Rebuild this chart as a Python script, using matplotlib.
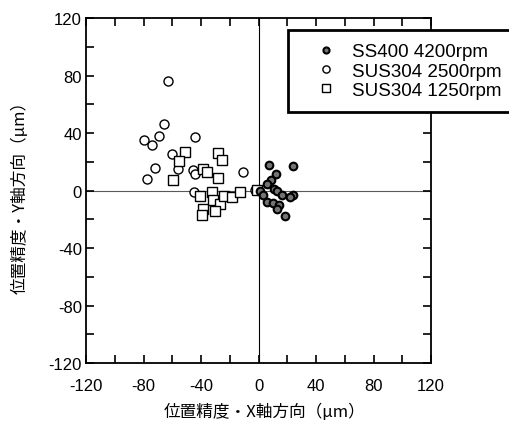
import matplotlib
matplotlib.use("Agg")
import matplotlib.pyplot as plt
from matplotlib.ticker import MultipleLocator

plt.rcParams['axes.unicode_minus'] = False

# SS400 4200rpm (filled circles)
ss400_x = [7.1, 23.8, 12.2, 8.5, 5.7, 10.8, 12.6, 16.1, 23.8, 21.9, 5.7, 10.3, 14.5, 13.1, 18.4, 1.0, 3.3]
ss400_y = [17.5, 16.8, 11.7, 7.1, 4.8, 1.3, -0.6, -2.9, -3.4, -4.5, -8.0, -8.5, -10.3, -12.7, -17.5, 0.0, -3.4]

# SUS304 2500rpm (open circles)
sus2500_x = [-62.7, -65.5, -79.6, -74.3, -69.2, -44.2, -60.4, -71.8, -77.8, -55.8, -45.4, -44.2, -10.6, -44.7, -2.4]
sus2500_y = [76.4, 46.5, 34.9, 31.4, 37.7, 37.2, 25.4, 15.9, 8.0, 14.9, 14.5, 11.2, 12.7, -1.2, 0.6]

# SUS304 1250rpm (open squares)
sus1250_x = [-51.1, -55.0, -59.2, -38.8, -35.6, -27.9, -25.1, -27.9, -40.7, -32.5, -31.4, -26.8, -30.3,
             -38.8, -39.3, -24.0, -18.2, -12.9, -1.3]
sus1250_y = [26.8, 20.5, 7.5, 14.7, 12.9, 26.3, 21.4, 8.9, -3.5, -0.7, -6.9, -9.2, -14.6,
             -12.7, -16.9, -3.5, -4.4, -1.2, 0.5]

labels = ["SS400 4200rpm", "SUS304 2500rpm", "SUS304 1250rpm"]
ticks = [-120, -80, -40, 0, 40, 80, 120]

fig = plt.figure(figsize=(5.09, 4.27), dpi=100)
ax = fig.add_axes([0.169, 0.1475, 0.678, 0.808])

ax.axhline(0, color="0.35", lw=0.8, zorder=1)
ax.axvline(0, color="black", lw=0.8, zorder=1)

h2, = ax.plot(sus2500_x, sus2500_y, "o", ms=6.5, mfc="white", mec="black", mew=1.0, ls="none", zorder=3)
h3, = ax.plot(sus1250_x, sus1250_y, "s", ms=7.5, mfc="white", mec="black", mew=1.0, ls="none", zorder=4)
h1, = ax.plot(ss400_x, ss400_y, "o", ms=5.5, mfc="0.45", mec="black", mew=1.5, ls="none", zorder=5)

ax.set_xlim(-120, 120)
ax.set_ylim(-120, 120)
ax.set_xticks(ticks)
ax.set_yticks(ticks)
ax.xaxis.set_minor_locator(MultipleLocator(20))
ax.yaxis.set_minor_locator(MultipleLocator(20))
ax.tick_params(which="both", direction="in", top=True, right=True, width=1.2, length=6)
ax.tick_params(axis="x", which="major", labelsize=12, pad=11)
ax.tick_params(axis="y", which="major", labelsize=12, pad=3)
for lab in ax.get_xticklabels() + ax.get_yticklabels():
    lab.set_family("Liberation Sans")
for s in ax.spines.values():
    s.set_linewidth(1.3)

cjk = ["Noto Sans CJK JP", "DejaVu Sans"]
fig.text(0.52, 0.035, "位置精度・X軸方向（μm）", ha="center", va="center", fontsize=12, family=cjk)
fig.text(0.04, 0.548, "位置精度・Y軸方向（μm）", ha="center", va="center", rotation=90, fontsize=12, family=cjk)

leg = fig.legend([h1, h2, h3], labels, loc="upper left", bbox_to_anchor=(288 / 509, 1 - 31 / 427),
                 prop={"family": "Liberation Sans", "size": 13.5}, frameon=True, fancybox=False,
                 handletextpad=0.0, borderpad=0.7, labelspacing=0.12, handlelength=2.7,
                 markerscale=0.8, borderaxespad=0)
leg.get_frame().set_edgecolor("black")
leg.get_frame().set_linewidth(2.0)
leg.get_frame().set_facecolor("white")
leg.get_frame().set_alpha(1)

fig.savefig("out.png", dpi=100)
